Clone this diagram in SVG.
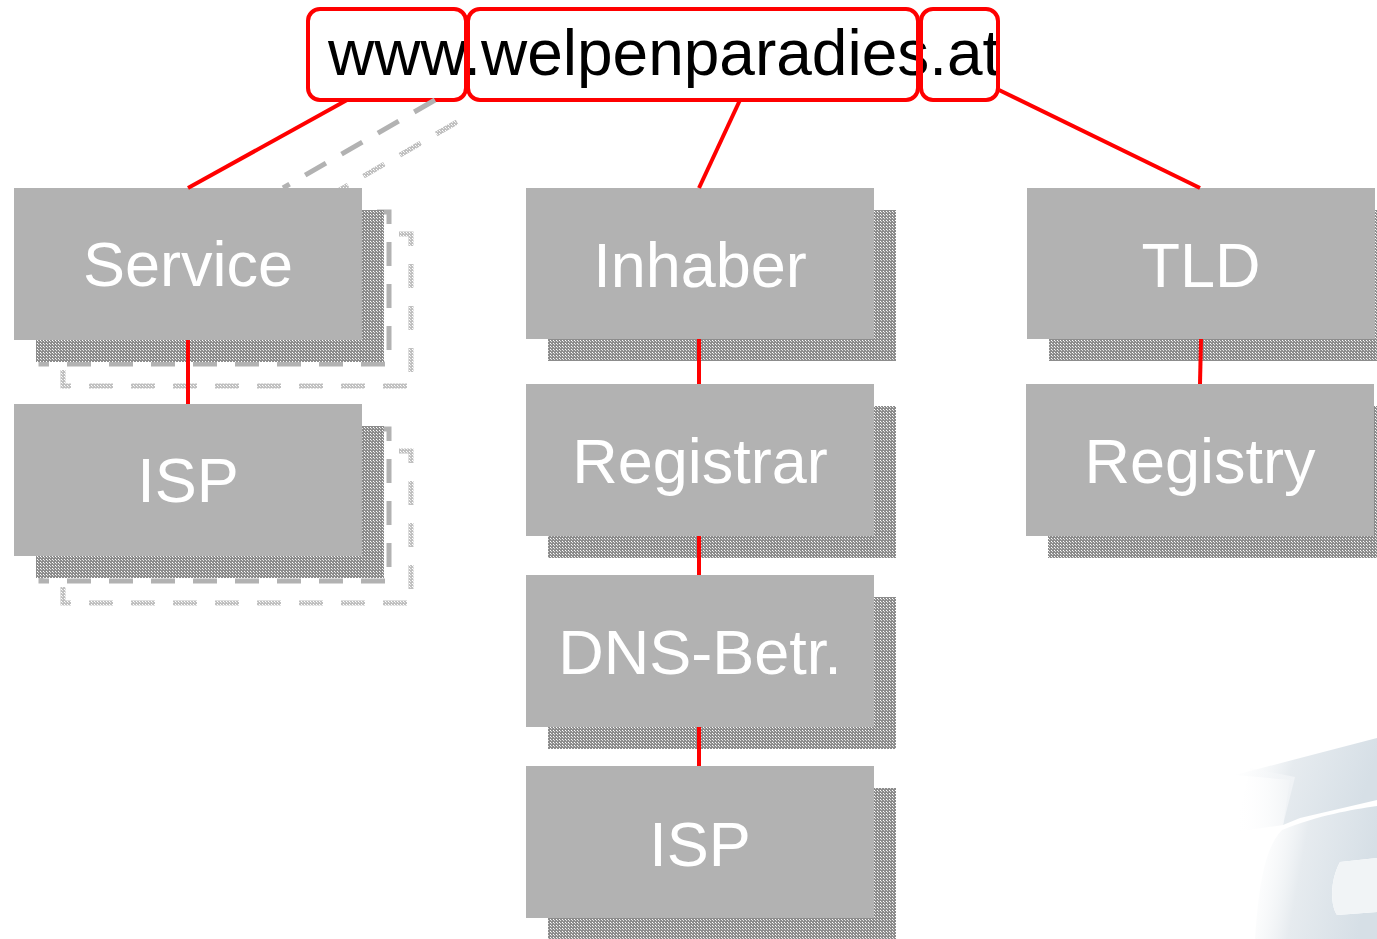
<svg xmlns="http://www.w3.org/2000/svg" width="1377" height="939" viewBox="0 0 1377 939">
<style>
.box{fill:#b2b2b2}
.shadow{fill:url(#dither)}
.lbl{font-family:"Liberation Sans",Arial,sans-serif;font-size:63px;fill:#ffffff;text-anchor:middle}
.red{stroke:#ff0000;stroke-width:4;fill:none}
.hdr{fill:none;stroke:#ff0000;stroke-width:4}
.dash{stroke:#b2b2b2;stroke-width:5;fill:none;stroke-dasharray:24 18}
.dashsh{stroke:url(#dither);stroke-width:5;fill:none;stroke-dasharray:24 18;opacity:0.55}
</style>
<defs>
<pattern id="dither" width="3" height="3" patternUnits="userSpaceOnUse">
<rect width="3" height="3" fill="#8c8c8c"/>
<rect x="1" y="1" width="1" height="1" fill="#ffffff"/>
<rect x="2" y="2" width="1" height="1" fill="#dcdcdc"/>
</pattern>
<linearGradient id="logoG" x1="0" y1="0" x2="1" y2="0.2">
<stop offset="0" stop-color="#ffffff" stop-opacity="0"/>
<stop offset="0.45" stop-color="#e6ebef"/>
<stop offset="1" stop-color="#d6dfe6"/>
</linearGradient>
<linearGradient id="logoG2" x1="0" y1="0" x2="1" y2="0">
<stop offset="0" stop-color="#ffffff" stop-opacity="0"/>
<stop offset="1" stop-color="#eff2f5"/>
</linearGradient>
</defs>

<g id="logo">
<path d="M1235,775 L1377,738 L1377,800 L1300,818 L1283,825 L1290,780 Z" fill="url(#logoG)"/>
<path d="M1250,768 L1295,777 L1283,825 L1235,832 Z" fill="url(#logoG2)"/>
<path d="M1282,830 C1320,815 1350,810 1377,806 L1377,858 L1340,862 C1330,880 1330,905 1337,915 L1377,912 L1377,939 L1255,939 C1258,900 1262,850 1282,830 Z" fill="url(#logoG)"/>
<path d="M1340,862 L1377,858 L1377,912 L1337,915 C1330,905 1330,880 1340,862 Z" fill="#f1f4f6"/>
</g>

<g id="header">
<rect x="308" y="9" width="158" height="91" rx="12" fill="#ffffff"/>
<rect x="468" y="9" width="450" height="91" rx="12" fill="#ffffff"/>
<rect x="921" y="9" width="77" height="91" rx="12" fill="#ffffff"/>
<text x="328" y="75" font-family="'Liberation Sans',Arial,sans-serif" font-size="64" fill="#000000">www.welpenparadies.at</text>
<rect class="hdr" x="308" y="9" width="158" height="91" rx="12"/>
<rect class="hdr" x="468" y="9" width="450" height="91" rx="12"/>
<rect class="hdr" x="921" y="9" width="77" height="91" rx="12"/>
</g>

<g id="ghost">
<line class="dashsh" x1="457" y1="122" x2="305" y2="210"/>
<line class="dash" x1="435" y1="100" x2="283" y2="188"/>
<rect class="dashsh" x="63" y="234" width="348" height="152"/>
<rect class="dash" x="41" y="212" width="348" height="152"/>
<rect class="dashsh" x="63" y="451" width="348" height="152"/>
<rect class="dash" x="41" y="429" width="348" height="152"/>
</g>

<g id="node-service">
<rect class="shadow" x="36" y="210" width="348" height="152"/>
<rect class="box" x="14" y="188" width="348" height="152"/>
<text class="lbl" x="188" y="286">Service</text>
</g>
<g id="node-isp-left">
<rect class="shadow" x="36" y="426" width="348" height="152"/>
<rect class="box" x="14" y="404" width="348" height="152"/>
<text class="lbl" x="188" y="502">ISP</text>
</g>
<g id="node-inhaber">
<rect class="shadow" x="548" y="210" width="348" height="151"/>
<rect class="box" x="526" y="188" width="348" height="151"/>
<text class="lbl" x="700" y="287">Inhaber</text>
</g>
<g id="node-registrar">
<rect class="shadow" x="548" y="406" width="348" height="152"/>
<rect class="box" x="526" y="384" width="348" height="152"/>
<text class="lbl" x="700" y="483">Registrar</text>
</g>
<g id="node-dns">
<rect class="shadow" x="548" y="597" width="348" height="152"/>
<rect class="box" x="526" y="575" width="348" height="152"/>
<text class="lbl" x="700" y="674">DNS-Betr.</text>
</g>
<g id="node-isp-mid">
<rect class="shadow" x="548" y="788" width="348" height="152"/>
<rect class="box" x="526" y="766" width="348" height="152"/>
<text class="lbl" x="700" y="866">ISP</text>
</g>
<g id="node-tld">
<rect class="shadow" x="1049" y="210" width="348" height="151"/>
<rect class="box" x="1027" y="188" width="348" height="151"/>
<text class="lbl" x="1201" y="287">TLD</text>
</g>
<g id="node-registry">
<rect class="shadow" x="1048" y="406" width="348" height="152"/>
<rect class="box" x="1026" y="384" width="348" height="152"/>
<text class="lbl" x="1200" y="483">Registry</text>
</g>

<g id="connectors">
<line class="red" x1="347" y1="100" x2="188" y2="188"/>
<line class="red" x1="188" y1="340" x2="188" y2="404"/>
<line class="red" x1="740" y1="100" x2="699" y2="188"/>
<line class="red" x1="699" y1="339" x2="699" y2="384"/>
<line class="red" x1="699" y1="536" x2="699" y2="575"/>
<line class="red" x1="699" y1="727" x2="699" y2="766"/>
<line class="red" x1="999" y1="90" x2="1200" y2="188"/>
<line class="red" x1="1201" y1="339" x2="1200" y2="384"/>
</g>
</svg>
